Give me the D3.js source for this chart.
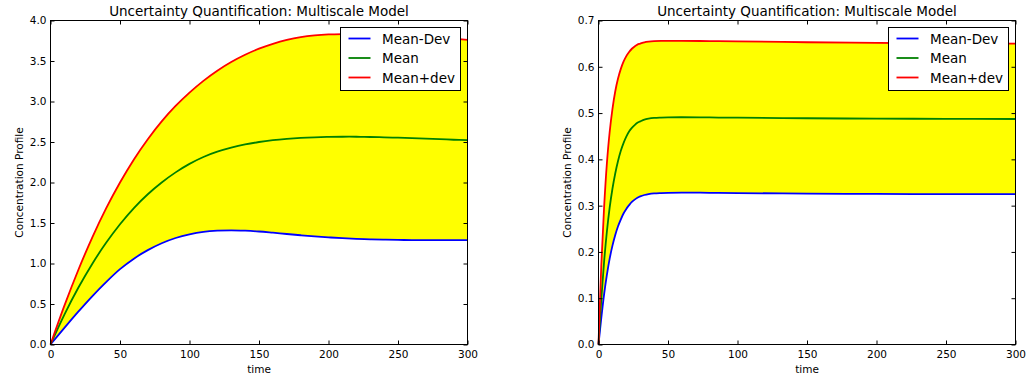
<!DOCTYPE html>
<html>
<head>
<meta charset="utf-8">
<script src="https://cdn.jsdelivr.net/npm/d3@7"></script>
<style>
  body { margin: 0; background: #fff; }
  text { font-family: "DejaVu Sans", sans-serif; fill: #000; }
</style>
</head>
<body>
<div id="chart"></div>
<script>
// left panel: slow response, every 10 time units
const timeLeft = [0,10,20,30,40,50,60,70,80,90,100,110,120,130,140,150,160,170,180,190,200,210,220,230,240,250,260,270,280,290,300];
const leftLower = [0,0.205,0.405,0.595,0.77,0.93,1.06,1.165,1.25,1.315,1.36,1.39,1.405,1.41,1.405,1.395,1.38,1.364,1.349,1.335,1.323,1.313,1.305,1.299,1.294,1.291,1.289,1.288,1.288,1.288,1.289];
const leftMean = [0,0.37,0.70,0.995,1.255,1.485,1.685,1.855,2.0,2.125,2.23,2.315,2.38,2.43,2.47,2.50,2.522,2.538,2.55,2.558,2.563,2.565,2.565,2.562,2.558,2.553,2.547,2.541,2.535,2.528,2.522];
const leftUpper = [0,0.48,0.92,1.32,1.68,2.00,2.285,2.535,2.755,2.945,3.11,3.255,3.38,3.487,3.577,3.652,3.712,3.76,3.795,3.817,3.829,3.833,3.833,3.83,3.825,3.818,3.81,3.80,3.79,3.775,3.76];

// right panel: fast response, denser samples at the start
const timeRight = [0,2,4,6,8,10,12,14,16,18,20,22,24,26,28,30,33,36,40,45,50,60,80,100,150,200,250,300];
const rightLower = [0,0.057,0.108,0.150,0.185,0.213,0.236,0.255,0.270,0.283,0.293,0.301,0.308,0.313,0.317,0.320,0.323,0.325,0.3265,0.3272,0.3276,0.328,0.3278,0.3272,0.326,0.3253,0.325,0.325];
const rightMean = [0,0.098,0.178,0.243,0.295,0.336,0.369,0.396,0.418,0.435,0.449,0.460,0.468,0.474,0.479,0.482,0.486,0.488,0.4895,0.4903,0.4908,0.491,0.4905,0.490,0.4888,0.488,0.4875,0.4872];
const rightUpper = [0,0.170,0.295,0.390,0.458,0.508,0.546,0.574,0.595,0.611,0.623,0.632,0.639,0.644,0.648,0.650,0.653,0.6545,0.6555,0.656,0.656,0.656,0.6555,0.655,0.653,0.6515,0.6505,0.650];

const xTicks = [0,50,100,150,200,250,300];
const leftYTicks = [0,0.5,1,1.5,2,2.5,3,3.5,4];
const rightYTicks = [0,0.1,0.2,0.3,0.4,0.5,0.6,0.7];
const seriesNames = ['Mean-Dev','Mean','Mean+dev'];
const seriesColors = ['#0000ff','#008000','#ff0000'];
const title = 'Uncertainty Quantification: Multiscale Model';

const svg = d3.select('#chart')
    .append('svg')
        .attr('width', 1028)
        .attr('height', 379);

function drawPanel(left, time, lower, mean, upper, yMax, yTicks) {
    const top = 20, width = 417, height = 324;
    const g = svg.append('g').attr('transform', `translate(${left + 0.5},${top + 0.5})`);

    const x = d3.scaleLinear().domain([0, 300]).range([0, width]);
    const y = d3.scaleLinear().domain([0, yMax]).range([height, 0]);

    const rows = time.map((t, i) => ({t: t, lo: lower[i], m: mean[i], hi: upper[i]}));
    const curve = d3.curveCatmullRom.alpha(0.5);

    // yellow band between mean-dev and mean+dev
    g.append('path')
        .datum(rows)
        .attr('fill', '#ffff00')
        .attr('d', d3.area()
            .curve(curve)
            .x(d => x(d.t))
            .y0(d => y(d.lo))
            .y1(d => y(d.hi)));

    const keys = ['lo','m','hi'];
    keys.forEach((k, i) => {
        g.append('path')
            .datum(rows)
            .attr('fill', 'none')
            .attr('stroke', seriesColors[i])
            .attr('stroke-width', 1.8)
            .attr('d', d3.line()
                .curve(curve)
                .x(d => x(d.t))
                .y(d => y(d[k])));
    });

    // axes, ticks pointing inward like old matplotlib
    const bottom = g.append('g').attr('transform', `translate(0,${height})`)
        .call(d3.axisBottom(x).tickValues(xTicks).tickSizeInner(-4).tickSizeOuter(0).tickPadding(6).tickFormat(d3.format('d')));
    const topAx = g.append('g')
        .call(d3.axisTop(x).tickValues(xTicks).tickSizeInner(-4).tickSizeOuter(0).tickFormat(''));
    const leftAx = g.append('g')
        .call(d3.axisLeft(y).tickValues(yTicks).tickSizeInner(-4).tickSizeOuter(0).tickPadding(4).tickFormat(d3.format('.1f')));
    const rightAx = g.append('g').attr('transform', `translate(${width},0)`)
        .call(d3.axisRight(y).tickValues(yTicks).tickSizeInner(-4).tickSizeOuter(0).tickFormat(''));
    [bottom, topAx, leftAx, rightAx].forEach(a => {
        a.select('.domain').remove();
        a.selectAll('line').attr('stroke', '#000');
        a.selectAll('text').style('font-size', '10.5px').style('font-family', '"DejaVu Sans", sans-serif').attr('fill', '#000');
    });

    g.append('rect')
        .attr('width', width)
        .attr('height', height)
        .attr('fill', 'none')
        .attr('stroke', '#000')
        .attr('stroke-width', 1);

    g.append('text')
        .attr('x', width / 2)
        .attr('y', -4.5)
        .style('text-anchor', 'middle')
        .style('font-size', '13.5px')
        .text(title);

    g.append('text')
        .attr('x', width / 2)
        .attr('y', height + 28.5)
        .style('text-anchor', 'middle')
        .style('font-size', '10.5px')
        .text('time');

    g.append('text')
        .attr('transform', `translate(-28,${height / 2}) rotate(-90)`)
        .style('text-anchor', 'middle')
        .style('font-size', '10.5px')
        .text('Concentration Profile');

    // legend
    const lg = g.append('g').attr('transform', `translate(${width - 127},7)`);
    lg.append('rect')
        .attr('width', 120)
        .attr('height', 63)
        .attr('fill', '#fff')
        .attr('stroke', '#000')
        .attr('stroke-width', 1);
    seriesNames.forEach((name, i) => {
        const yy = 11 + i * 19.5;
        lg.append('line')
            .attr('x1', 8).attr('x2', 30)
            .attr('y1', yy).attr('y2', yy)
            .attr('stroke', seriesColors[i])
            .attr('stroke-width', 1.8);
        lg.append('text')
            .attr('x', 41.5)
            .attr('y', yy + 5)
            .style('font-size', '13.5px')
            .text(name);
    });
}

drawPanel(50, timeLeft, leftLower, leftMean, leftUpper, 4, leftYTicks);
drawPanel(598, timeRight, rightLower, rightMean, rightUpper, 0.7, rightYTicks);
</script>
</body>
</html>
